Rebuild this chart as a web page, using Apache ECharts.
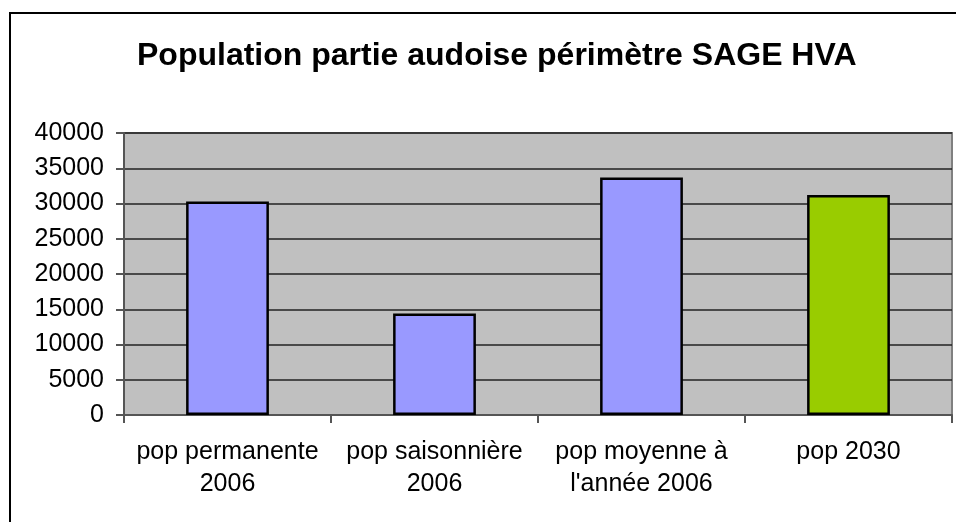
<!DOCTYPE html>
<html>
<head>
<meta charset="utf-8">
<script src="https://cdn.jsdelivr.net/npm/echarts@6/dist/echarts.min.js"></script>
<style>
  html, body { margin: 0; padding: 0; background: #fff; }
  #chart { width: 956px; height: 522px; }
</style>
</head>
<body>
<div id="chart"></div>
<script>
  // données
  const categories = ['pop permanente\n2006', 'pop saisonnière\n2006', "pop moyenne à\nl'année 2006", 'pop 2030']
  const population = [30300, 14400, 33700, 31200]
  const barColors = ['#9999FF', '#9999FF', '#9999FF', '#99CC00']
  const yTicks = { min: 0, max: 40000, interval: 5000 }

  const font = '"Liberation Sans", Arial, sans-serif'
  const chart = echarts.init(document.getElementById('chart'), null, { renderer: 'canvas' })

  const option = {
    animation: false,
    backgroundColor: '#fff',
    title: {
      text: 'Population partie audoise périmètre SAGE HVA',
      left: 132,
      top: 35,
      textStyle: { fontFamily: font, fontSize: 32, fontWeight: 'bold', color: '#000' }
    },
    // cadre du graphique (gauche + haut)
    graphic: [{
      type: 'polyline',
      shape: { points: [[10, 522], [10, 13], [956, 13]] },
      style: { stroke: '#000', lineWidth: 2, fill: null }
    }],
    grid: {
      left: 124,
      right: 4,
      top: 133,
      bottom: 107,
      show: true,
      backgroundColor: '#C0C0C0',
      borderColor: '#808080',
      borderWidth: 2
    },
    xAxis: {
      type: 'category',
      data: categories,
      axisLine: { lineStyle: { color: '#555', width: 2 } },
      axisTick: { show: true, length: 8, lineStyle: { color: '#555', width: 2 } },
      axisLabel: {
        margin: 21,
        fontFamily: font,
        fontSize: 25,
        lineHeight: 32,
        color: '#000',
        interval: 0
      }
    },
    yAxis: {
      type: 'value',
      min: yTicks.min,
      max: yTicks.max,
      interval: yTicks.interval,
      axisLine: { show: true, lineStyle: { color: '#555', width: 2 } },
      axisTick: { show: true, length: 8, lineStyle: { color: '#555', width: 2 } },
      axisLabel: { margin: 20, fontFamily: font, fontSize: 25, color: '#000', formatter: v => String(v) },
      splitLine: { show: true, lineStyle: { color: '#222', width: 1.5 } }
    },
    series: [{
      type: 'bar',
      barWidth: '40%',
      data: population.map((v, i) => ({
        value: v,
        itemStyle: { color: barColors[i] }
      })),
      itemStyle: { borderColor: '#000', borderWidth: 2.5 }
    }]
  }

  chart.setOption(option)
</script>
</body>
</html>
